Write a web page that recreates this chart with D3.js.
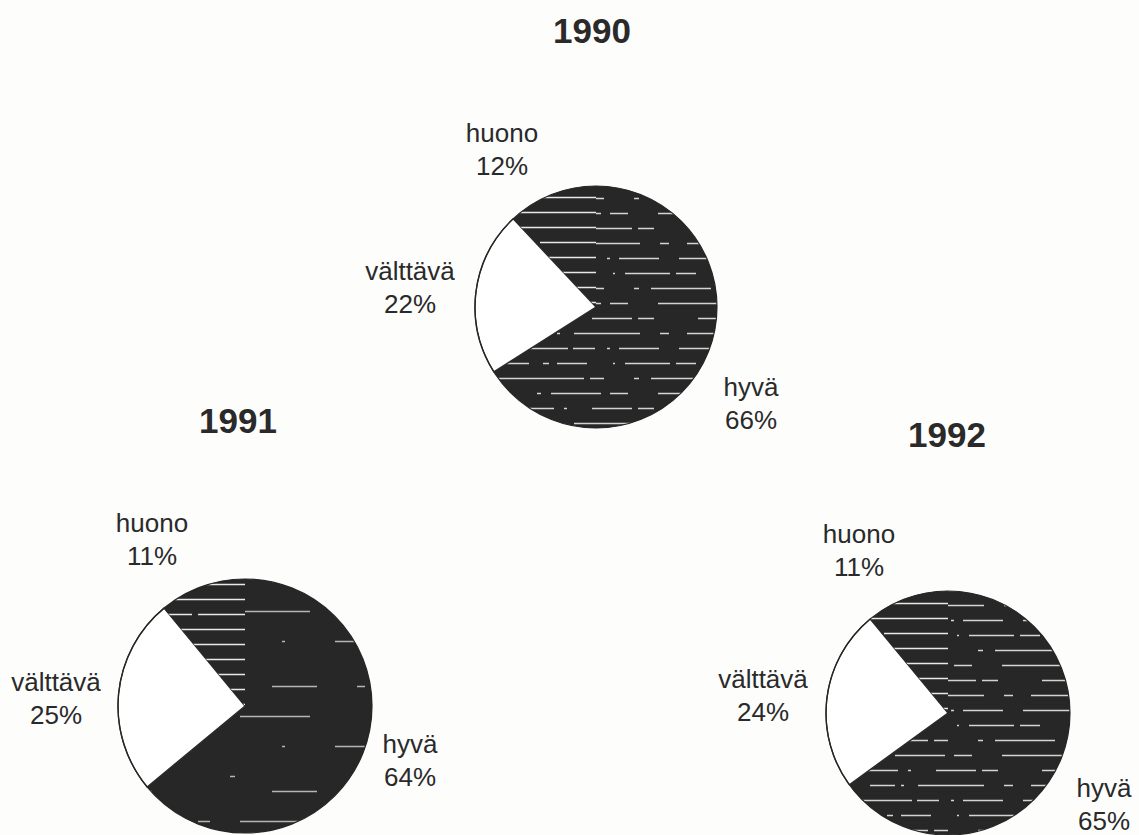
<!DOCTYPE html>
<html>
<head>
<meta charset="utf-8">
<script src="https://cdn.jsdelivr.net/npm/d3@7"></script>
<style>
  html, body { margin: 0; padding: 0; background: #fdfdfc; }
  svg { display: block; }
  text { font-family: "Liberation Sans", Arial, sans-serif; fill: #2a2a2a; }
</style>
</head>
<body>
<svg id="chart" width="1139" height="835"></svg>
<script>
// Condition ratings of the three survey years (percent)
const years = ["1990", "1991", "1992"];
const categories = ["hyvä", "välttävä", "huono"];
const shares1990 = [66, 22, 12];
const shares1991 = [64, 25, 11];
const shares1992 = [65, 24, 11];
const sharesByYear = [shares1990, shares1991, shares1992];

// Layout of each pie: centre, radius, title and label anchors (label = centre x, first baseline)
const layout = [
  { cx: 596, cy: 307, r: 121, title: [592, 43], texture: "dense",
    labels: { "hyvä": [751, 396], "välttävä": [410, 280], "huono": [502, 142] } },
  { cx: 245, cy: 706, r: 127, title: [238, 433], texture: "sparse",
    labels: { "hyvä": [410, 753], "välttävä": [56, 691], "huono": [152, 532] } },
  { cx: 948, cy: 713, r: 122, title: [947, 447], texture: "dense",
    labels: { "hyvä": [1104, 797], "välttävä": [763, 688], "huono": [859, 543] } }
];

const svg = d3.select("#chart");
const defs = svg.append("defs");

// Dark fill with broken white horizontal streaks (printed screen texture)
function streakPattern(id, rows, opacity, offsetX, offsetY) {
  const rowH = 15, W = 360;
  const p = defs.append("pattern")
    .attr("id", id)
    .attr("patternUnits", "userSpaceOnUse")
    .attr("width", W).attr("height", rowH * rows.length)
    .attr("x", offsetX).attr("y", offsetY);
  p.append("rect").attr("width", W).attr("height", rowH * rows.length).attr("fill", "#272727");
  rows.forEach((dash, i) => {
    if (!dash) return;
    p.append("line")
      .attr("x1", 0).attr("x2", W)
      .attr("y1", i * rowH + 4.5).attr("y2", i * rowH + 4.5)
      .attr("stroke", "#f2f2f2")
      .attr("stroke-width", 1.4)
      .attr("stroke-opacity", opacity)
      .attr("stroke-dasharray", dash);
  });
  return "url(#" + id + ")";
}

const hyvaDense = [
  "4 30 60 5 22 12 3 9 40 20 70 8 12 30 18 17",
  "55 14 6 8 30 26 2 10 45 6 20 40 35 12 9 40",
  "2 18 90 6 14 30 5 12 60 25 8 20 25 45",
  "35 28 4 10 50 9 18 30 75 12 6 40 10 33",
  "80 10 3 25 40 6 16 44 28 8 50 30 20 0",
  "12 40 25 6 3 14 66 20 9 18 54 30 40 23"
];
const hyvaSparse = [
  "20 120 45 40 8 40 30 57",
  "",
  "6 60 12 30 70 80 10 92",
  "",
  "40 110 3 50 60 97",
  "",
  "8 90 5 150 4 103"
];
const huonoRows = [
  "120 4 30 14 150 42",
  "160 10 20 6 110 54",
  "95 3 40 8 170 44",
  "140 12 60 6 90 52"
];

const pie = d3.pie().sort(null).value(d => d.value);

layout.forEach((L, k) => {
  const values = sharesByYear[k];
  const data = categories.map((c, i) => ({ cat: c, value: values[i] }));
  const arc = d3.arc().innerRadius(0).outerRadius(L.r);

  const fills = {
    "hyvä": L.texture === "dense"
      ? streakPattern("hyva" + k, hyvaDense, 0.85, L.cx + 2, L.cy)
      : streakPattern("hyva" + k, hyvaSparse, 0.7, L.cx + 2, L.cy - 100),
    "välttävä": "#ffffff",
    "huono": streakPattern("huono" + k, huonoRows, 0.95, L.cx - 150, L.cy - L.r)
  };

  const g = svg.append("g").attr("transform", `translate(${L.cx},${L.cy})`);

  g.selectAll("path")
    .data(pie(data))
    .join("path")
    .attr("d", arc)
    .attr("fill", d => fills[d.data.cat])
    .attr("stroke", d => d.data.cat === "välttävä" ? "#2a2a2a" : "none")
    .attr("stroke-width", 1.4);

  // outline of the whole disc
  g.append("circle").attr("r", L.r).attr("fill", "none")
    .attr("stroke", "#262626").attr("stroke-width", 1.2);

  // year title
  svg.append("text")
    .attr("x", L.title[0]).attr("y", L.title[1])
    .attr("text-anchor", "middle")
    .style("font-size", "35px").style("font-weight", "bold")
    .text(years[k]);

  // category labels with percentage underneath
  data.forEach(d => {
    const [x, y] = L.labels[d.cat];
    const t = svg.append("text")
      .attr("x", x).attr("y", y)
      .attr("text-anchor", "middle")
      .style("font-size", "26px");
    t.append("tspan").attr("x", x).text(d.cat);
    t.append("tspan").attr("x", x).attr("dy", 33).text(d.value + "%");
  });
});
</script>
</body>
</html>
